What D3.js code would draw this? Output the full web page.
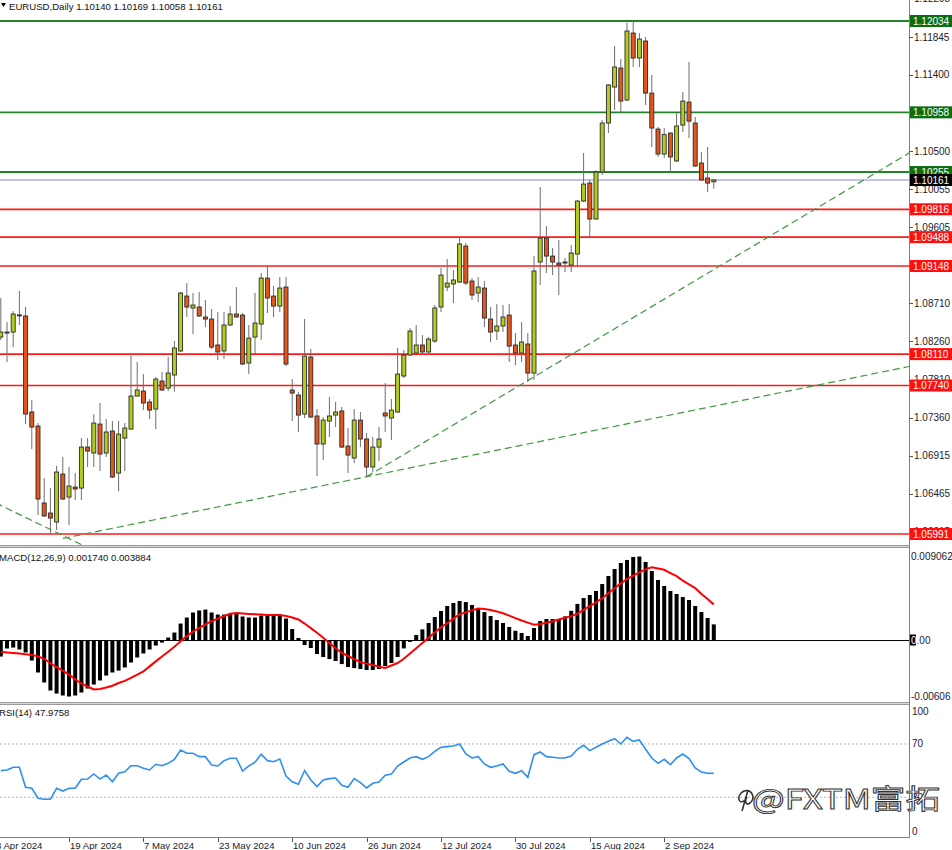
<!DOCTYPE html>
<html><head><meta charset="utf-8">
<script src="https://cdn.jsdelivr.net/npm/d3@7"></script>
<style>body{margin:0;background:#fff;} svg{display:block;font-family:"Liberation Sans",Arial,sans-serif;}</style>
</head><body><svg id="c" width="952" height="850"></svg>
<script>
// ---- DATA (bars from 4 Apr 2024 to 12 Sep 2024, daily) ----
const opens=[1.08311,1.08370,1.08370,1.08568,1.08559,1.07428,1.07263,1.06356,1.06238,1.06132,1.06697,1.06426,1.06544,1.06532,1.07015,1.06945,1.07286,1.06945,1.07204,1.06709,1.07121,1.07227,1.07616,1.07675,1.07546,1.07463,1.07793,1.07710,1.07864,1.08147,1.08794,1.08653,1.08665,1.08547,1.08523,1.08217,1.08147,1.08453,1.08582,1.08570,1.08005,1.08311,1.08464,1.09006,1.08794,1.08676,1.08900,1.07687,1.07628,1.07404,1.08076,1.07381,1.07051,1.07322,1.07392,1.07440,1.07027,1.06886,1.07333,1.07110,1.06780,1.07015,1.07416,1.07357,1.07428,1.07852,1.08099,1.08123,1.08217,1.08135,1.08264,1.08665,1.08900,1.08936,1.08959,1.09383,1.08971,1.08830,1.08888,1.08523,1.08382,1.08441,1.08570,1.08217,1.08123,1.08229,1.07887,1.09195,1.09477,1.09265,1.09183,1.09195,1.09159,1.09289,1.09913,1.10125,1.09701,1.10255,1.10832,1.11256,1.11480,1.11103,1.11892,1.11598,1.11798,1.11185,1.10761,1.10467,1.10714,1.10385,1.10808,1.11079,1.10832,1.10361,1.10184,1.10140];
const highs=[1.08771,1.08488,1.08617,1.08853,1.08665,1.07569,1.07298,1.06650,1.06532,1.06792,1.06898,1.06780,1.06709,1.07121,1.07121,1.07404,1.07534,1.07345,1.07322,1.07322,1.07298,1.08123,1.08017,1.07875,1.07581,1.07840,1.07899,1.08076,1.08264,1.08841,1.08947,1.08830,1.08841,1.08747,1.08641,1.08606,1.08606,1.08676,1.08900,1.08594,1.08453,1.08830,1.09065,1.09146,1.08912,1.09018,1.09018,1.07816,1.07663,1.08523,1.08170,1.07463,1.07369,1.07604,1.07546,1.07487,1.07239,1.07463,1.07428,1.07180,1.07133,1.07251,1.07769,1.07581,1.08182,1.08158,1.08417,1.08453,1.08335,1.08311,1.08688,1.09124,1.09230,1.09100,1.09489,1.09419,1.09006,1.09018,1.08971,1.08665,1.08700,1.08688,1.08700,1.08358,1.08488,1.08358,1.09265,1.10078,1.09619,1.09360,1.09454,1.09242,1.09395,1.09925,1.10479,1.10161,1.10278,1.10867,1.11291,1.11739,1.11586,1.12015,1.12030,1.11892,1.11845,1.11398,1.10785,1.10773,1.10720,1.10950,1.11197,1.11551,1.10903,1.10491,1.10549,1.10169];
const lows=[1.08276,1.08017,1.08193,1.08453,1.07286,1.06992,1.06214,1.06191,1.05995,1.06038,1.06391,1.06097,1.06391,1.06391,1.06780,1.06780,1.06733,1.06898,1.06650,1.06497,1.06733,1.07222,1.07612,1.07451,1.07345,1.07227,1.07675,1.07675,1.07670,1.08135,1.08547,1.08346,1.08547,1.08429,1.08170,1.08040,1.08052,1.08441,1.08540,1.07981,1.07875,1.08111,1.08276,1.08594,1.08547,1.08606,1.07970,1.07322,1.07192,1.07357,1.07357,1.06674,1.06862,1.07133,1.07251,1.07004,1.06709,1.06827,1.07015,1.06662,1.06721,1.06851,1.07192,1.07098,1.07416,1.07828,1.08087,1.08118,1.08118,1.08123,1.08241,1.08606,1.08853,1.08712,1.08947,1.08924,1.08747,1.08723,1.08429,1.08252,1.08276,1.08370,1.08017,1.07981,1.08017,1.07781,1.07805,1.08924,1.09065,1.09041,1.08806,1.09077,1.09077,1.09136,1.09901,1.09489,1.09695,1.10220,1.10714,1.10985,1.10962,1.11091,1.11492,1.11492,1.11044,1.10549,1.10432,1.10420,1.10255,1.10373,1.10726,1.10655,1.10314,1.10149,1.10019,1.10058];
const closes=[1.08370,1.08358,1.08582,1.08572,1.07404,1.07251,1.06403,1.06203,1.06179,1.06721,1.06403,1.06556,1.06521,1.07015,1.06968,1.07298,1.06933,1.07192,1.06662,1.07168,1.07239,1.07616,1.07687,1.07534,1.07451,1.07816,1.07687,1.07887,1.08182,1.08830,1.08665,1.08688,1.08559,1.08523,1.08193,1.08135,1.08453,1.08582,1.08547,1.07993,1.08299,1.08476,1.09006,1.08771,1.08676,1.08888,1.07993,1.07651,1.07392,1.08087,1.07369,1.07051,1.07333,1.07381,1.07428,1.07015,1.06921,1.07333,1.07110,1.06780,1.07015,1.07110,1.07381,1.07451,1.07875,1.08099,1.08382,1.08217,1.08135,1.08287,1.08653,1.09041,1.08947,1.08983,1.09407,1.08947,1.08806,1.08900,1.08535,1.08370,1.08441,1.08547,1.08205,1.08123,1.08252,1.07887,1.09089,1.09477,1.09265,1.09195,1.09159,1.09189,1.09301,1.09913,1.10113,1.09701,1.10255,1.10832,1.11280,1.11492,1.11091,1.11916,1.11598,1.11822,1.11185,1.10773,1.10467,1.10696,1.10432,1.10797,1.11091,1.10855,1.10326,1.10161,1.10125,1.10161];
const macdHist=[-0.00173,-0.00086,-0.00076,-0.00097,-0.00129,-0.00216,-0.00345,-0.00453,-0.00539,-0.00572,-0.00593,-0.00604,-0.00593,-0.00561,-0.00518,-0.00475,-0.00431,-0.00378,-0.00345,-0.00324,-0.00291,-0.00237,-0.00183,-0.00140,-0.00097,-0.00054,-0.00022,0.00032,0.00086,0.00183,0.00248,0.00302,0.00324,0.00334,0.00302,0.00280,0.00280,0.00291,0.00291,0.00259,0.00248,0.00248,0.00270,0.00280,0.00280,0.00280,0.00237,0.00124,0.00027,-0.00049,-0.00081,-0.00146,-0.00178,-0.00200,-0.00221,-0.00254,-0.00286,-0.00297,-0.00307,-0.00318,-0.00318,-0.00307,-0.00275,-0.00243,-0.00178,-0.00085,-0.00015,0.00060,0.00120,0.00189,0.00254,0.00318,0.00372,0.00405,0.00426,0.00415,0.00383,0.00351,0.00307,0.00264,0.00221,0.00189,0.00146,0.00105,0.00081,0.00049,0.00135,0.00210,0.00232,0.00232,0.00232,0.00260,0.00320,0.00395,0.00458,0.00491,0.00534,0.00609,0.00696,0.00771,0.00836,0.00868,0.00901,0.00906,0.00847,0.00750,0.00653,0.00588,0.00534,0.00502,0.00469,0.00437,0.00372,0.00307,0.00243,0.00174];
const macdSignal=[-0.00122,-0.00128,-0.00135,-0.00141,-0.00149,-0.00155,-0.00173,-0.00197,-0.00245,-0.00286,-0.00325,-0.00367,-0.00419,-0.00466,-0.00496,-0.00527,-0.00522,-0.00507,-0.00488,-0.00458,-0.00436,-0.00403,-0.00369,-0.00333,-0.00279,-0.00225,-0.00173,-0.00121,-0.00068,-0.00008,0.00047,0.00095,0.00135,0.00174,0.00209,0.00236,0.00262,0.00288,0.00298,0.00292,0.00287,0.00283,0.00280,0.00275,0.00275,0.00275,0.00264,0.00249,0.00227,0.00183,0.00134,0.00083,0.00030,-0.00027,-0.00084,-0.00134,-0.00167,-0.00201,-0.00233,-0.00249,-0.00265,-0.00282,-0.00296,-0.00269,-0.00243,-0.00197,-0.00140,-0.00083,-0.00027,0.00030,0.00087,0.00142,0.00189,0.00236,0.00283,0.00304,0.00325,0.00345,0.00341,0.00328,0.00314,0.00294,0.00268,0.00241,0.00216,0.00193,0.00170,0.00179,0.00192,0.00207,0.00227,0.00245,0.00263,0.00290,0.00331,0.00371,0.00411,0.00456,0.00509,0.00563,0.00616,0.00663,0.00699,0.00734,0.00768,0.00789,0.00776,0.00763,0.00728,0.00694,0.00645,0.00605,0.00565,0.00502,0.00448,0.003884];
const rsiValues=[50.0,50.5,52.5,52.5,37.5,36.8,29.3,28.5,28.5,36.8,34.7,36.8,36.8,43.5,43.7,47.5,43.7,46.7,41.7,48.0,49.2,53.7,53.7,51.8,50.5,54.8,53.7,55.5,58.5,65.5,63.0,63.0,60.5,60.5,54.2,53.5,57.5,59.3,59.3,49.7,53.5,56.3,62.3,57.5,56.7,58.7,46.0,41.7,39.8,50.0,43.0,38.0,43.0,44.0,44.5,39.0,37.5,44.0,41.0,37.0,40.5,41.5,46.5,47.5,53.5,56.5,59.5,60.5,58.5,60.5,64.5,67.5,68.0,68.5,70.0,62.5,59.5,60.5,55.0,52.5,53.5,55.0,49.5,48.0,50.0,45.0,62.0,64.0,60.5,60.0,59.5,59.5,61.0,66.0,69.0,65.0,67.5,70.0,72.0,74.0,70.0,75.0,72.0,73.0,66.0,59.5,55.5,58.5,54.5,59.5,62.5,59.0,52.0,49.0,48.0,47.9758];
const priceTicks=[1.12295,1.11845,1.11400,1.10950,1.10500,1.10055,1.09605,1.09155,1.08710,1.08260,1.07810,1.07360,1.06915,1.06465,1.06015];
const greenLevels=[1.12034,1.10958,1.10255];
const redLevels=[1.09816,1.09488,1.09148,1.08110,1.07740,1.05991];
const lastPrice=1.10161;
const dateTickLabels=["3 Apr 2024","19 Apr 2024","7 May 2024","23 May 2024","10 Jun 2024","26 Jun 2024","12 Jul 2024","30 Jul 2024","15 Aug 2024","2 Sep 2024"];
const macdTickLabels=["0.009062","0.00","-0.00606"];
const macdTickValues=[0.009062,0,-0.00606];
const rsiTickValues=[100,70,30,0];
// trend lines: [bar index, price] pairs (bar 0 = 3 Apr 2024)
const trendLines=[
  {p0:[0,1.06363],p1:[11,1.05973],t0:-3,t1:18},
  {p0:[11,1.05939],p1:[60,1.06666],t0:11,t1:150},
  {p0:[60,1.06666],p1:[86,1.07799],t0:60,t1:150}
];
const title="EURUSD,Daily  1.10140 1.10169 1.10058 1.10161";
const macdTitle="MACD(12,26,9) 0.001740 0.003884";
const rsiTitle="RSI(14) 47.9758";

// ---- LAYOUT ----
const RX=909;
const FS=9.6;
const svg=d3.select("#c");
const dates=d3.timeDay.range(new Date(2024,3,3),new Date(2024,8,13)).filter(d=>d.getDay()%6!==0);
const fmt=d3.timeFormat("%-d %b %Y");
const x=d3.scaleLinear().domain([0,116]).range([-5.4,713.8]);
const bars=opens.map((o,k)=>({i:k+1,o,h:highs[k],l:lows[k],c:closes[k],m:macdHist[k],s:macdSignal[k],r:rsiValues[k]}));

const yP=d3.scaleLinear().domain([1.05991,1.12034]).range([534,21]);
const yM=d3.scaleLinear().domain([-0.00606,0.009062]).range([696.7,556.5]);
const yR=d3.scaleLinear().domain([0,100]).range([837.3,704]);

const defs=svg.append("defs");
defs.append("clipPath").attr("id","cm").append("rect").attr("x",0).attr("y",0).attr("width",RX).attr("height",545);
defs.append("clipPath").attr("id","cd").append("rect").attr("x",0).attr("y",548).attr("width",RX).attr("height",154);
defs.append("clipPath").attr("id","cr").append("rect").attr("x",0).attr("y",705).attr("width",RX).attr("height",132);

// ---- MAIN PANEL ----
const gm=svg.append("g").attr("clip-path","url(#cm)");
greenLevels.forEach(v=>gm.append("line").attr("x1",0).attr("x2",RX).attr("y1",yP(v)).attr("y2",yP(v)).attr("stroke","#23832a").attr("stroke-width",1.8));
redLevels.forEach(v=>gm.append("line").attr("x1",0).attr("x2",RX).attr("y1",yP(v)).attr("y2",yP(v)).attr("stroke","#ff1a1a").attr("stroke-width",1.7));
gm.append("line").attr("x1",0).attr("x2",RX).attr("y1",yP(lastPrice)).attr("y2",yP(lastPrice)).attr("stroke","#8585d5").attr("stroke-width",1.2);

trendLines.forEach(t=>{
  const sl=(t.p1[1]-t.p0[1])/(t.p1[0]-t.p0[0]);
  const pv=u=>t.p0[1]+sl*(u-t.p0[0]);
  gm.append("line").attr("x1",x(t.t0)).attr("y1",yP(pv(t.t0))).attr("x2",x(t.t1)).attr("y2",yP(pv(t.t1)))
    .attr("stroke","#3f993f").attr("stroke-width",1.2).attr("stroke-dasharray","7,4");
});

const cg=gm.selectAll("g.c").data(bars).enter().append("g");
cg.append("line").attr("x1",d=>x(d.i)).attr("x2",d=>x(d.i)).attr("y1",d=>yP(d.h)).attr("y2",d=>yP(d.l)).attr("stroke","#6e6e6e").attr("stroke-width",1);
cg.append("rect").attr("x",d=>x(d.i)-2).attr("width",4)
  .attr("y",d=>yP(Math.max(d.o,d.c))).attr("height",d=>Math.max(1,Math.abs(yP(d.o)-yP(d.c))))
  .attr("fill",d=>d.c>=d.o?"#b2cc1e":"#e4561b").attr("stroke","#2a2a2a").attr("stroke-width",0.9);

// ---- MACD PANEL ----
const gd=svg.append("g").attr("clip-path","url(#cd)");
gd.append("line").attr("x1",0).attr("x2",RX).attr("y1",yM(0)).attr("y2",yM(0)).attr("stroke","#000").attr("stroke-width",1);
gd.selectAll("rect.h").data(bars).enter().append("rect")
  .attr("x",d=>x(d.i)-2).attr("width",4)
  .attr("y",d=>yM(Math.max(0,d.m))).attr("height",d=>Math.abs(yM(d.m)-yM(0)))
  .attr("fill","#000");
gd.append("path").datum(bars).attr("fill","none").attr("stroke","#ff0000").attr("stroke-width",2)
  .attr("d",d3.line().x(d=>x(d.i)).y(d=>yM(d.s)));

// ---- RSI PANEL ----
const gr=svg.append("g").attr("clip-path","url(#cr)");
[70,30].forEach(v=>gr.append("line").attr("x1",0).attr("x2",RX).attr("y1",yR(v)).attr("y2",yR(v)).attr("stroke","#b8b8b8").attr("stroke-dasharray","2,2"));
gr.append("path").datum(bars).attr("fill","none").attr("stroke","#2f8ff0").attr("stroke-width",1.6)
  .attr("d",d3.line().x(d=>x(d.i)).y(d=>yR(d.r)));

// ---- FRAMES ----
[545.5,547.5,702.5,704.5].forEach(y=>svg.append("line").attr("x1",0).attr("x2",RX).attr("y1",y).attr("y2",y).attr("stroke","#9a9a9a").attr("stroke-width",1));
svg.append("rect").attr("x",0).attr("y",546).attr("width",RX).attr("height",1).attr("fill","#d8d8d8");
svg.append("rect").attr("x",0).attr("y",703).attr("width",RX).attr("height",1).attr("fill","#d8d8d8");
svg.append("line").attr("x1",RX+0.5).attr("x2",RX+0.5).attr("y1",0).attr("y2",838).attr("stroke","#808080");
svg.append("line").attr("x1",0).attr("x2",RX).attr("y1",837.5).attr("y2",837.5).attr("stroke","#808080");

// ---- RIGHT AXES ----
const axTxt="#1b1b2e";
priceTicks.forEach(v=>{
  svg.append("line").attr("x1",RX).attr("x2",RX+4).attr("y1",Math.round(yP(v))+0.5).attr("y2",Math.round(yP(v))+0.5).attr("stroke","#555");
  svg.append("text").attr("x",914).attr("y",yP(v)+3.5).attr("font-size",10).attr("fill",axTxt).text(v.toFixed(5));
});
function levelBox(v,fill){
  const yy=yP(v);
  svg.append("rect").attr("x",RX+1).attr("y",yy-6).attr("width",43).attr("height",12).attr("fill",fill);
  svg.append("text").attr("x",913).attr("y",yy+3.7).attr("font-size",10).attr("fill","#fff").text(v.toFixed(5));
}
greenLevels.forEach(v=>levelBox(v,"#0b6e12"));
redLevels.forEach(v=>levelBox(v,"#ff1010"));
levelBox(lastPrice,"#000");

macdTickValues.forEach((v,k)=>{
  const yy=yM(v);
  if(k===1){svg.append("rect").attr("x",RX+1).attr("y",yy-6).attr("width",6).attr("height",11).attr("fill","#000");}
  const t=svg.append("text").attr("x",RX+2).attr("y",yy+3.5).attr("font-size",10).attr("fill",axTxt);
  if(k===1){t.append("tspan").attr("fill","#fff").text("0"); t.append("tspan").text(".00");}
  else t.text(macdTickLabels[k]);
});
rsiTickValues.forEach(v=>{
  let yy=yR(v)+3.5; if(v===100) yy=yR(v)+10.5; if(v===0) yy=yR(v)-2.5;
  svg.append("text").attr("x",RX+3).attr("y",yy).attr("font-size",10).attr("fill",axTxt).text(v);
});

// ---- BOTTOM AXIS ----
dateTickLabels.forEach(lbl=>{
  const k=dates.findIndex(d=>fmt(d)===lbl);
  if(k<0) return;
  const xx=Math.round(x(k))+0.5;
  svg.append("line").attr("x1",xx).attr("x2",xx).attr("y1",838).attr("y2",842).attr("stroke","#555");
  svg.append("text").attr("x",xx+0.5).attr("y",849).attr("font-size",FS).attr("fill",axTxt).text(lbl);
});

// ---- TITLES ----
svg.append("path").attr("d","M1,3 L6,3 L3.5,7 Z").attr("fill","#000");
svg.append("text").attr("x",9).attr("y",10).attr("font-size",FS).attr("fill","#111").text(title);
svg.append("text").attr("x",-1).attr("y",561).attr("font-size",FS).attr("fill","#111").text(macdTitle);
svg.append("text").attr("x",-1).attr("y",716).attr("font-size",FS).attr("fill","#111").text(rsiTitle);

// ---- WATERMARK ----
const wm=svg.append("g");
wm.append("path").attr("d","M742,811 L748,790 M745,800 C738,806 736,795 744,791 C752,789 756,798 750,803 C746,806 744,801 747,797")
  .attr("fill","none").attr("stroke","#333").attr("stroke-width",1.6);
wm.append("text").attr("x",752).attr("y",809).attr("font-size",27)
  .attr("font-family","'Noto Sans CJK SC','Noto Sans',sans-serif")
  .attr("fill","#fff").attr("stroke","#333").attr("stroke-width",0.9)
  .attr("textLength",188).attr("lengthAdjust","spacingAndGlyphs").text("@FXTM富拓");
</script></body></html>
